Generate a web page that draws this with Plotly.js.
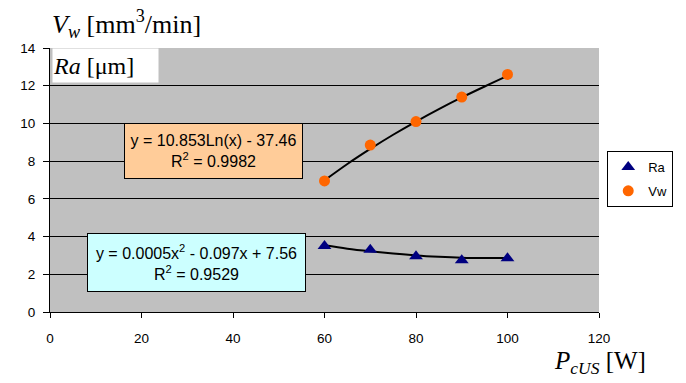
<!DOCTYPE html>
<html><head><meta charset="utf-8">
<script src="https://cdn.plot.ly/plotly-3.0.1.min.js"></script>
<style>html,body{margin:0;padding:0;background:#fff}#chart{width:686px;height:383px}</style>
</head><body><div id="chart"></div>
<script>
const power = [60, 70, 80, 90, 100];
const ra = [3.5, 3.3, 2.95, 2.75, 2.85];
const vw = [6.95, 8.85, 10.1, 11.4, 12.6];
// trend lines
const trendX = [60, 65, 70, 75, 80, 85, 90, 95, 100];
const raTrend = [3.54, 3.36, 3.22, 3.10, 3.0, 2.93, 2.88, 2.86, 2.86];
const vwTrend = [6.98, 7.85, 8.65, 9.40, 10.10, 10.76, 11.38, 11.96, 12.52];
const xTicks = [0, 20, 40, 60, 80, 100, 120];
const yTicks = [0, 2, 4, 6, 8, 10, 12, 14];

const traces = [
  {x: trendX, y: vwTrend, mode: 'lines', line: {color: '#000', width: 2, shape: 'spline'}, showlegend: false, hoverinfo: 'skip'},
  {x: trendX, y: raTrend, mode: 'lines', line: {color: '#000', width: 2, shape: 'spline'}, showlegend: false, hoverinfo: 'skip'},
  {x: power, y: ra, name: 'Ra', legendgroup: 'a', mode: 'markers', marker: {symbol: 'triangle-up', size: 12, color: '#000080'}},
  {x: power, y: vw, name: 'Vw', legendgroup: 'b', mode: 'markers', marker: {symbol: 'circle', size: 11, color: '#FF6600'}}
];

const layout = {
  width: 686, height: 383,
  margin: {l: 50, r: 87, t: 48, b: 71},
  paper_bgcolor: '#fff', plot_bgcolor: '#C0C0C0',
  font: {family: 'Arial, Liberation Sans, sans-serif', size: 13.5, color: '#000'},
  xaxis: {range: [0, 120], tickvals: xTicks, ticks: 'outside', ticklen: 5, tickcolor: '#000', ticklabelstandoff: 9,
          showline: true, linecolor: '#000', linewidth: 1, showgrid: false, zeroline: false, fixedrange: true, automargin: false},
  yaxis: {range: [0, 14], tickvals: yTicks, ticks: 'outside', ticklen: 6, tickcolor: '#000', ticklabelstandoff: 5,
          showline: true, linecolor: '#000', linewidth: 1, showgrid: true, gridcolor: '#000', gridwidth: 1,
          zeroline: false, fixedrange: true, automargin: false},
  showlegend: true,
  legend: {x: 1.015, xanchor: 'left', y: 0.61, yanchor: 'top', bgcolor: '#fff', bordercolor: '#000', borderwidth: 1,
           font: {size: 13}, itemwidth: 30, traceorder: 'grouped', tracegroupgap: 4},
  annotations: [
    {xref: 'paper', yref: 'paper', x: 0.004, xanchor: 'left', y: 1, yanchor: 'top', width: 105, height: 33,
     bgcolor: '#fff', borderpad: 0, showarrow: false, align: 'left',
     text: '<i>Ra</i> [μm]', font: {family: 'Liberation Serif, Times New Roman, serif', size: 24}},
    {xref: 'paper', yref: 'paper', x: 0, xanchor: 'left', y: 1.09, yanchor: 'middle', showarrow: false,
     text: '<i>V<sub>w</sub></i> [mm<sup>3</sup>/min]', font: {family: 'Liberation Serif, Times New Roman, serif', size: 26}},
    {xref: 'paper', yref: 'paper', x: 1.09, xanchor: 'right', y: -0.19, yanchor: 'middle', showarrow: false,
     text: '<i>P<sub>cUS</sub></i> [W]', font: {family: 'Liberation Serif, Times New Roman, serif', size: 25}},
    {xref: 'x', yref: 'y', x: 35.7, y: 8.54, showarrow: false, width: 175, height: 52, bgcolor: '#FFCC99',
     bordercolor: '#000', borderwidth: 1, borderpad: 1,
     text: 'y = 10.853Ln(x) - 37.46<br>R<sup>2</sup> = 0.9982', font: {size: 16}},
    {xref: 'x', yref: 'y', x: 32.0, y: 2.62, showarrow: false, width: 215, height: 55, bgcolor: '#CCFFFF',
     bordercolor: '#000', borderwidth: 1, borderpad: 1,
     text: 'y = 0.0005x<sup>2</sup> - 0.097x + 7.56<br>R<sup>2</sup> = 0.9529', font: {size: 16}}
  ]
};
Plotly.newPlot('chart', traces, layout, {displayModeBar: false, staticPlot: true});
</script></body></html>
